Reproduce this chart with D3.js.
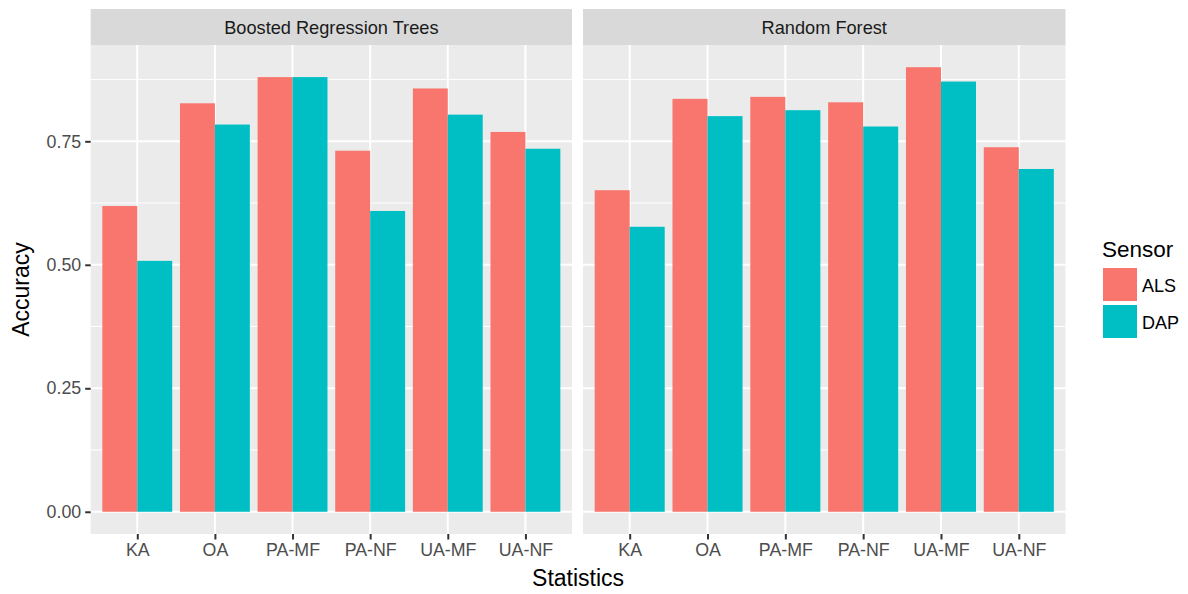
<!DOCTYPE html>
<html>
<head>
<meta charset="utf-8">
<script src="https://cdn.jsdelivr.net/npm/d3@7"></script>
<style>
  body { margin: 0; background: #fff; }
  svg { font-family: "Liberation Sans", Arial, sans-serif; }
</style>
</head>
<body>
<div id="chart"></div>
<script>
// data
var statistics = ["KA", "OA", "PA-MF", "PA-NF", "UA-MF", "UA-NF"];
var models = ["Boosted Regression Trees", "Random Forest"];
var sensors = ["ALS", "DAP"];
var brtALS = [0.619, 0.827, 0.880, 0.731, 0.857, 0.769];
var brtDAP = [0.508, 0.784, 0.880, 0.609, 0.804, 0.735];
var rfALS  = [0.651, 0.836, 0.840, 0.829, 0.900, 0.738];
var rfDAP  = [0.577, 0.801, 0.813, 0.780, 0.871, 0.694];
var yTicks = [0, 0.25, 0.5, 0.75];
var yMinor = [0.125, 0.375, 0.625, 0.875];

var colors = {ALS: "#F8766D", DAP: "#00BFC4"};

var width = 1188, height = 594;
var panelTop = 45, panelBottom = 534, stripTop = 9;
var panels = [{x0: 90.7, x1: 572}, {x0: 583, x1: 1065.5}];

var panelData = [
    {model: models[0], values: {ALS: brtALS, DAP: brtDAP}},
    {model: models[1], values: {ALS: rfALS, DAP: rfDAP}}
];

var yMax = d3.max([].concat(brtALS, brtDAP, rfALS, rfDAP));
var yScale = d3.scaleLinear()
    .domain([-0.05 * yMax, 1.05 * yMax])
    .range([panelBottom, panelTop]);

var svg = d3.select("#chart").append("svg")
    .attr("width", width)
    .attr("height", height);

panelData.forEach(function(p, i) {
    var pos = panels[i];
    // discrete scale with 0.6 unit expansion on each side
    var unit = (pos.x1 - pos.x0) / (statistics.length - 1 + 1.2);
    var xScale = d3.scalePoint()
        .domain(statistics)
        .range([pos.x0 + 0.6 * unit, pos.x1 - 0.6 * unit]);

    var g = svg.append("g");

    // strip
    g.append("rect")
        .attr("x", pos.x0).attr("y", stripTop)
        .attr("width", pos.x1 - pos.x0).attr("height", panelTop - stripTop)
        .attr("fill", "#D9D9D9");
    g.append("text")
        .attr("x", (pos.x0 + pos.x1) / 2).attr("y", 34)
        .attr("text-anchor", "middle")
        .attr("font-size", "18.2px")
        .attr("fill", "#1A1A1A")
        .text(p.model);

    // panel background
    g.append("rect")
        .attr("x", pos.x0).attr("y", panelTop)
        .attr("width", pos.x1 - pos.x0).attr("height", panelBottom - panelTop)
        .attr("fill", "#EBEBEB");

    g.selectAll(".minor").data(yMinor).enter().append("line")
        .attr("x1", pos.x0).attr("x2", pos.x1)
        .attr("y1", yScale).attr("y2", yScale)
        .attr("stroke", "#fff").attr("stroke-width", 1);
    g.selectAll(".major").data(yTicks).enter().append("line")
        .attr("x1", pos.x0).attr("x2", pos.x1)
        .attr("y1", yScale).attr("y2", yScale)
        .attr("stroke", "#fff").attr("stroke-width", 2);
    g.selectAll(".xgrid").data(statistics).enter().append("line")
        .attr("x1", xScale).attr("x2", xScale)
        .attr("y1", panelTop).attr("y2", panelBottom)
        .attr("stroke", "#fff").attr("stroke-width", 2);

    // bars, dodged
    var half = 0.45 * unit;
    sensors.forEach(function(s, k) {
        g.selectAll(".bar-" + s).data(p.values[s]).enter().append("rect")
            .attr("x", function(d, j) { return xScale(statistics[j]) - half + k * half; })
            .attr("y", function(d) { return yScale(d); })
            .attr("width", half)
            .attr("height", function(d) { return yScale(0) - yScale(d); })
            .attr("fill", colors[s]);
    });

    // x axis
    var xAxis = g.append("g")
        .attr("transform", "translate(0," + panelBottom + ")")
        .call(d3.axisBottom(xScale).tickSize(5.5).tickPadding(4));
    xAxis.select(".domain").remove();
    xAxis.selectAll("line").attr("stroke", "#333").attr("stroke-width", 2);
    xAxis.selectAll("text").attr("font-size", "17.8px").attr("fill", "#4D4D4D")
        .attr("font-family", "Liberation Sans, Arial, sans-serif");
});

// y axis on the left panel only
var yAxis = svg.append("g")
    .attr("transform", "translate(" + panels[0].x0 + ",0)")
    .call(d3.axisLeft(yScale).tickValues(yTicks).tickFormat(d3.format(".2f")).tickSize(5.5).tickPadding(4));
yAxis.select(".domain").remove();
yAxis.selectAll("line").attr("stroke", "#333").attr("stroke-width", 2);
yAxis.selectAll("text").attr("font-size", "17.8px").attr("fill", "#4D4D4D")
    .attr("font-family", "Liberation Sans, Arial, sans-serif");

// axis titles
svg.append("text")
    .attr("x", (panels[0].x0 + panels[1].x1) / 2).attr("y", 586)
    .attr("text-anchor", "middle").attr("font-size", "23px")
    .text("Statistics");
svg.append("text")
    .attr("transform", "translate(29," + (panelTop + panelBottom) / 2 + ") rotate(-90)")
    .attr("text-anchor", "middle").attr("font-size", "23px")
    .text("Accuracy");

// legend
var legend = svg.append("g");
legend.append("text")
    .attr("x", 1102).attr("y", 257)
    .attr("font-size", "22.5px")
    .text("Sensor");
sensors.forEach(function(s, k) {
    var y0 = 268 + k * 37;
    legend.append("rect")
        .attr("x", 1103).attr("y", y0)
        .attr("width", 34).attr("height", 33)
        .attr("fill", colors[s]);
    legend.append("text")
        .attr("x", 1142).attr("y", y0 + 24)
        .attr("font-size", "18px")
        .text(s);
});
</script>
</body>
</html>
